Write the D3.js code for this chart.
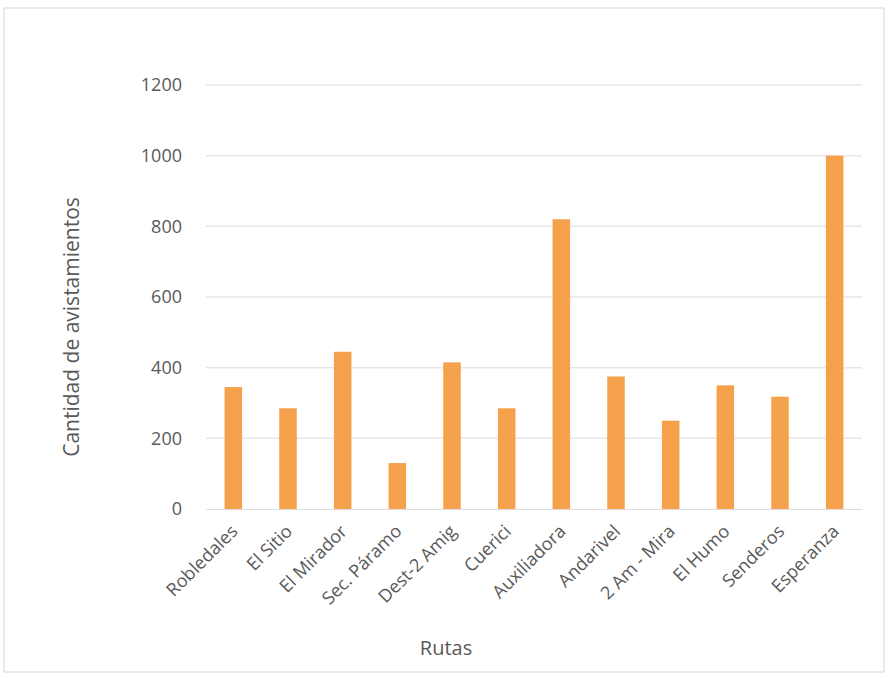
<!DOCTYPE html>
<html>
<head>
<meta charset="utf-8">
<script src="https://cdn.jsdelivr.net/npm/d3@7"></script>
<style>
  body { margin: 0; background: #fff; }
  text { font-family: "Open Sans", "Liberation Sans", sans-serif; fill: #595959; }
</style>
</head>
<body>
<svg id="chart" width="889" height="678"></svg>
<script>
const rutas = ["Robledales", "El Sitio", "El Mirador", "Sec. Páramo", "Dest-2 Amig", "Cuerici",
  "Auxiliadora", "Andarivel", "2 Am - Mira", "El Humo", "Senderos", "Esperanza"];
const avistamientos = [345, 285, 445, 130, 415, 285, 820, 375, 250, 350, 318, 1000];
const yTicks = [0, 200, 400, 600, 800, 1000, 1200];

const svg = d3.select("#chart");

// chart frame
svg.append("rect")
  .attr("x", 4).attr("y", 8)
  .attr("width", 880).attr("height", 664)
  .attr("fill", "#fff")
  .attr("stroke", "#e6e2e2")
  .attr("stroke-width", 1.5);

const margin = {t: 85, r: 27, l: 206, b: 169};
const width = +svg.attr("width");
const height = +svg.attr("height");
const graphWidth = width - margin.l - margin.r;
const graphHeight = height - margin.t - margin.b;

const graph = svg.append("g")
  .attr("transform", `translate(${margin.l}, ${margin.t})`);

const x = d3.scaleBand().domain(rutas).range([0, graphWidth]).paddingInner(0.68).paddingOuter(0.34);
const y = d3.scaleLinear().domain([0, 1200]).range([graphHeight, 0]);

// gridlines
graph.append("g")
  .selectAll("line").data(yTicks.filter(d => d > 0)).enter().append("line")
  .attr("x1", 0).attr("x2", graphWidth)
  .attr("y1", d => y(d)).attr("y2", d => y(d))
  .attr("stroke", "#ebe6e6")
  .attr("stroke-width", 1.5);

// y axis labels
const yAxis = d3.axisLeft(y).tickValues(yTicks).tickFormat(d3.format("d")).tickSize(0).tickPadding(24);
const yAxisGroup = graph.append("g").call(yAxis);
yAxisGroup.select(".domain").remove();
yAxisGroup.selectAll("text").style("font-size", "18px").attr("fill", "#606060");

// bars
graph.selectAll("rect.bar").data(avistamientos).enter().append("rect")
  .attr("class", "bar")
  .attr("x", (d, i) => x(rutas[i]))
  .attr("width", x.bandwidth())
  .attr("y", d => y(d))
  .attr("height", d => graphHeight - y(d))
  .attr("fill", "#f5a04a");

// x axis
const xAxis = d3.axisBottom(x).tickSize(0);
const xAxisGroup = graph.append("g")
  .attr("transform", `translate(0,${graphHeight})`)
  .call(xAxis);
xAxisGroup.select(".domain").attr("stroke", "#dcdde3").attr("stroke-width", 1.2);
xAxisGroup.selectAll("text")
  .style("font-size", "18px")
  .attr("fill", "#606060")
  .attr("text-anchor", "end")
  .attr("x", 0).attr("y", 0)
  .attr("dy", "0.35em")
  .attr("transform", "translate(1,19) rotate(-45)");

// axis titles
svg.append("text")
  .attr("transform", "translate(79, 327) rotate(-90)")
  .attr("text-anchor", "middle")
  .style("font-size", "21px")
  .text("Cantidad de avistamientos");

svg.append("text")
  .attr("x", 446).attr("y", 655)
  .attr("text-anchor", "middle")
  .style("font-size", "20px")
  .text("Rutas");
</script>
</body>
</html>
